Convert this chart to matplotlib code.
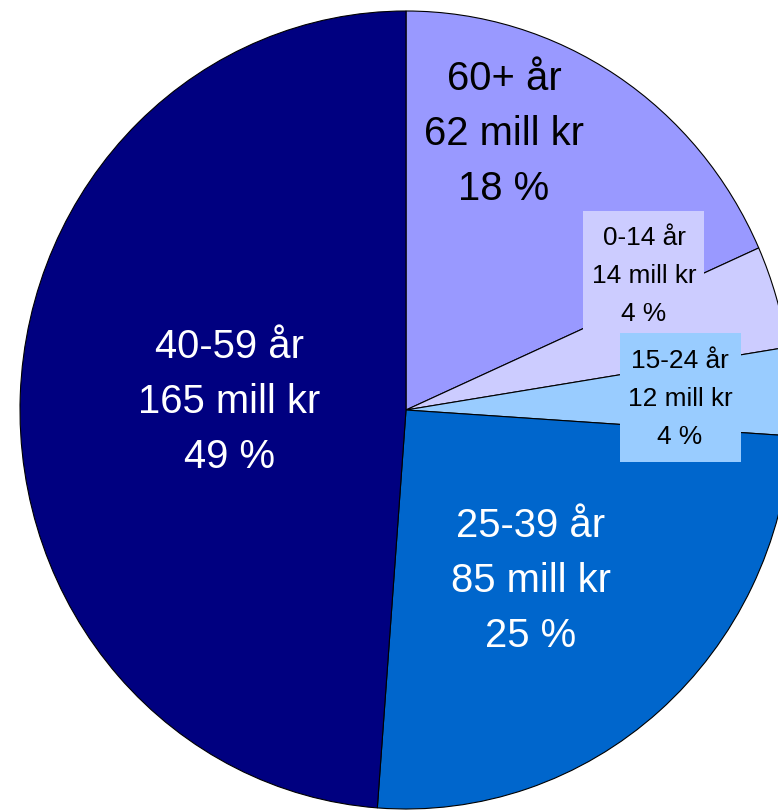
import matplotlib.pyplot as plt
from matplotlib.patches import Rectangle

# =========================
# Data
# =========================

age_groups = ["60+ år", "0-14 år", "15-24 år", "25-39 år", "40-59 år"]
amounts = [62, 14, 12, 85, 165]  # mill kr
shares = [18, 4, 4, 25, 49]  # %
colors = ["#9999FF", "#CCCCFF", "#99CCFF", "#0066CC", "#000080"]

# =========================
# Layout (pixels, origin top-left)
# =========================

W, H = 778, 810
CX, CY = 406, 410  # pie centre
RX, RY = 386, 399  # slightly stretched pie, like the original

# label centre x, y, font size, text colour, line spacing, box (x0, y0, x1, y1)
label_style = [
    (504, 134, 28.8, "black", 1.56, None),
    (644, 276, 18.9, "black", 1.72, (583, 211, 704, 334)),
    (680, 399, 18.9, "black", 1.72, (620, 333, 741, 462)),
    (531, 581, 28.8, "white", 1.56, None),
    (229, 402, 28.8, "white", 1.56, None),
]

plt.rcParams["font.family"] = ["Liberation Sans", "DejaVu Sans"]

fig = plt.figure(figsize=(W / 100, H / 100), dpi=100)
ax = fig.add_axes([0, 0, 1, 1])

ax.pie(
    amounts,
    colors=colors,
    startangle=90,
    counterclock=False,
    radius=1,
    wedgeprops=dict(edgecolor="black", linewidth=0.8),
)
ax.set_aspect("auto")
ax.set_xlim(-CX / RX, (W - CX) / RX)
ax.set_ylim(-(H - CY) / RY, CY / RY)
ax.axis("off")

for group, amount, share, color_fill, style in zip(
    age_groups, amounts, shares, colors, label_style
):
    x, y, size, color, spacing, box = style
    if box is not None:
        x0, y0, x1, y1 = box
        ax.add_patch(
            Rectangle(
                (x0 / W, 1 - y1 / H),
                (x1 - x0) / W,
                (y1 - y0) / H,
                transform=ax.transAxes,
                facecolor=color_fill,
                edgecolor="none",
                zorder=3,
            )
        )
    ax.text(
        x / W,
        1 - y / H,
        f"{group}\n{amount} mill kr\n{share} %",
        transform=ax.transAxes,
        ha="center",
        va="center",
        multialignment="center",
        fontsize=size,
        color=color,
        linespacing=spacing,
        zorder=4,
    )

fig.savefig("out.png", dpi=100)
